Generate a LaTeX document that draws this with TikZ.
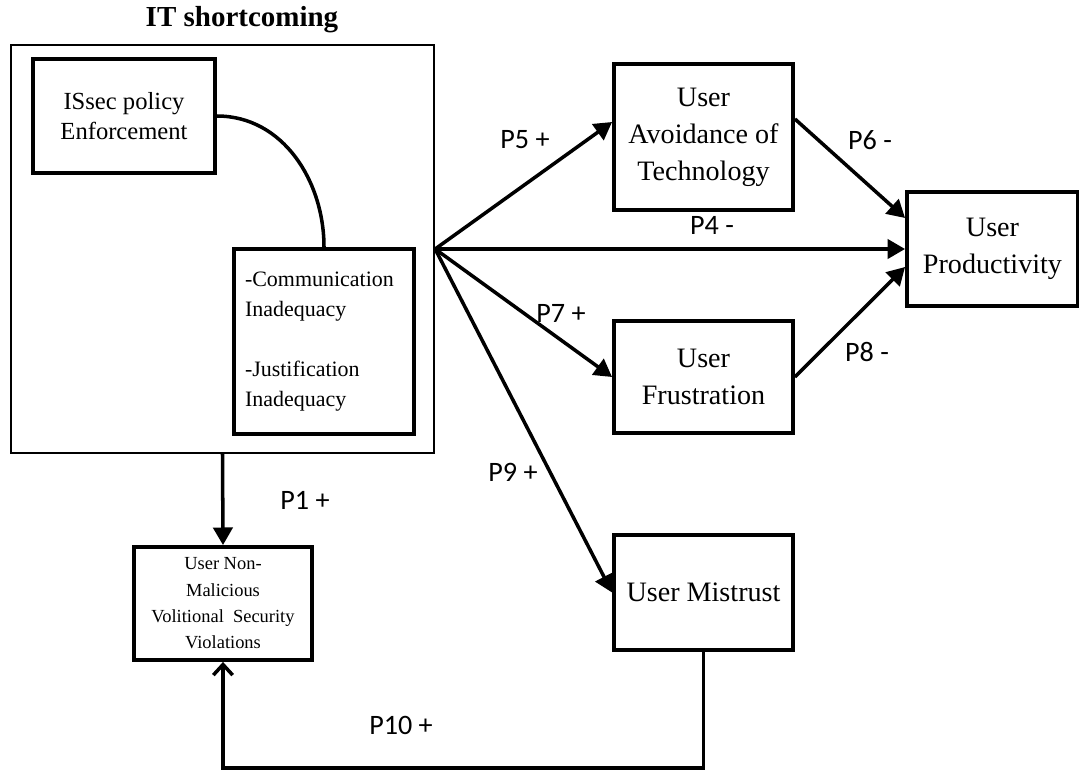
\documentclass[tikz,border=0pt]{standalone}
\usepackage{fontspec}
\setmainfont{Liberation Serif}
\newfontfamily\labelfont{Carlito}
\usepackage{tikz}
\usetikzlibrary{arrows.meta, positioning, calc}
\tikzset{
    construct/.style={rectangle, draw=black, line width=2.2pt, inner sep=2pt, align=center, minimum width=3.58cm, font=\fontsize{16}{21}\selectfont},
    group/.style={rectangle, draw=black, line width=1.3pt, minimum width=8.46cm, minimum height=8.16cm},
    arrow/.style={line width=2pt, -{Triangle[length=10pt,width=11pt]}},
    openarrow/.style={line width=2pt, -{Straight Barb[length=6pt,width=11pt]}},
    link/.style={line width=2pt},
    plabel/.style={font=\labelfont\fontsize{16}{19}\selectfont}
}
\begin{document}
\begin{tikzpicture}
    \useasboundingbox (0,0) rectangle (21.58,-15.44);

    % IT shortcoming group
    \node[group] (itbox) at (4.45,-4.98) {};
    \node[font=\bfseries\fontsize{16.5}{19}\selectfont] (ittitle) at (4.84,-0.40) {IT shortcoming};
    \node[construct, minimum width=3.64cm, minimum height=2.28cm, font=\fontsize{14}{17.5}\selectfont] (policy) at (2.48,-2.32) {ISsec policy\\Enforcement};
    \node[construct, minimum height=3.7cm, text width=3.16cm, inner xsep=0.22cm, align=left, font=\fontsize{12.5}{17}\selectfont] (inadeq) at (6.48,-6.83) {-Communication\\Inadequacy\\[17pt]-Justification\\Inadequacy};

    % Outcomes
    \node[construct, minimum height=2.92cm] (avoid) at (14.07,-2.74) {User\\Avoidance of\\Technology};
    \node[construct, minimum width=3.42cm, minimum height=2.28cm] (prod) at (19.85,-4.98) {User\\Productivity};
    \node[construct, minimum height=2.24cm] (frust) at (14.07,-7.54) {User\\Frustration};
    \node[construct, minimum height=2.30cm] (mistrust) at (14.07,-11.85) {User Mistrust};
    \node[construct, minimum width=3.56cm, minimum height=2.26cm, font=\fontsize{10.5}{15}\selectfont] (viol) at (4.46,-12.07) {User Non-\\Malicious\\Volitional\ \ Security\\Violations};

    % Links
    \draw[link] (policy.east) to[out=0, in=90] (inadeq.north);
    \draw[arrow] (itbox.east) -- ([yshift=0.3cm]avoid.west);
    \draw[arrow] (itbox.east) -- (prod.west);
    \draw[arrow] (itbox.east) -- (frust.west);
    \draw[arrow] (itbox.east) -- (mistrust.west);
    \draw[arrow] ([yshift=0.36cm]avoid.east) -- ([yshift=0.62cm]prod.west);
    \draw[arrow] (frust.east) -- ([yshift=-0.36cm]prod.west);
    \draw[arrow] (itbox.south) -- (viol.north);
    \coordinate (loopend) at (14.07,-15.36);
    \draw[openarrow] (mistrust.south) -- (loopend) -| (viol.south);

    % Propositions
    \node[plabel] (p5) at (10.50,-2.80) {P5 +};
    \node[plabel] (p6) at (17.40,-2.80) {P6 -};
    \node[plabel] (p4) at (14.24,-4.50) {P4 -};
    \node[plabel] (p7) at (11.22,-6.26) {P7 +};
    \node[plabel] (p8) at (17.34,-7.04) {P8 -};
    \node[plabel] (p9) at (10.26,-9.44) {P9 +};
    \node[plabel] (p1) at (6.10,-10.00) {P1 +};
    \node[plabel] (p10) at (8.02,-14.50) {P10 +};
\end{tikzpicture}
\end{document}
